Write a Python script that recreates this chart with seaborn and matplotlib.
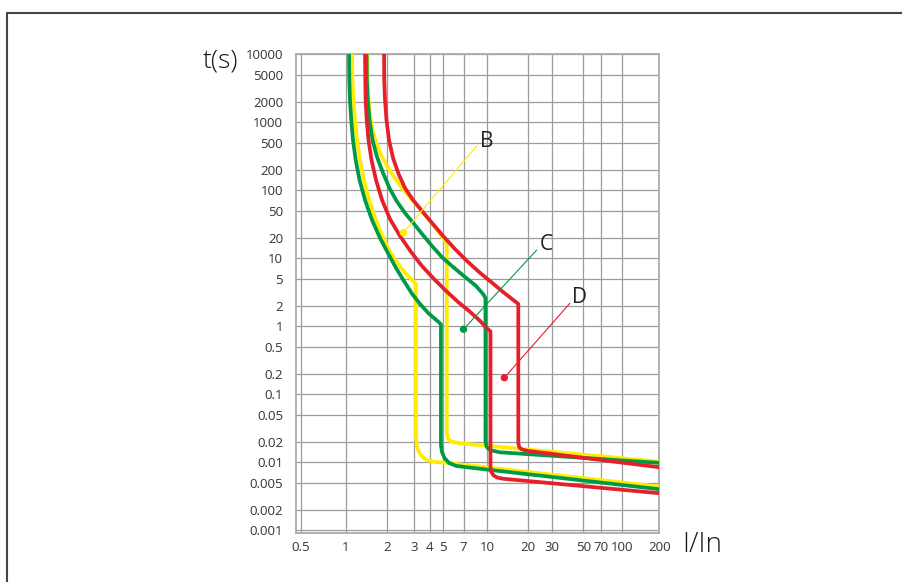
import numpy as np
import matplotlib
matplotlib.use('Agg')
import matplotlib.pyplot as plt
from matplotlib.lines import Line2D
from matplotlib.ticker import NullLocator
import seaborn as sns

# axis ticks
x_ticks = [0.5, 1, 2, 3, 4, 5, 7, 10, 20, 30, 50, 70, 100, 200]
y_ticks = [10000, 5000, 2000, 1000, 500, 200, 100, 50, 20, 10, 5, 2, 1,
           0.5, 0.2, 0.1, 0.05, 0.02, 0.01, 0.005, 0.002, 0.001]
# the printed I/In scale is not evenly logarithmic: where each tick sits (px)
x_tick_place = [300.7, 345.7, 386.7, 413.7, 429.7, 443.3, 463.5, 487.3,
                527.7, 552.3, 583.3, 600.7, 621.7, 659.3]

# trip curves, I/In vs t(s)
b_min_x = [1.112, 1.12, 1.141, 1.17, 1.211, 1.274, 1.362, 1.483, 1.641, 1.817, 2.01,
           2.23, 2.48, 2.755, 2.97, 3.125, 3.125, 3.18, 3.33, 3.55, 3.89, 4.36, 5.0, 200]
b_min_t = [12000, 4188, 2128, 1081, 549, 279, 142, 72, 39.2, 23.6, 15.2,
           10.07, 7.2, 5.49, 4.64, 4.19, 0.0236, 0.0168, 0.0137, 0.01177, 0.0106,
           0.0101, 0.0099, 0.00438]

b_max_x = [1.44, 1.446, 1.47, 1.508, 1.574, 1.669, 1.817, 2.01, 2.23, 2.52, 2.89,
           3.36, 3.96, 4.58, 5.3, 5.3, 5.36, 5.54, 5.88, 6.6, 200]
b_max_t = [12000, 4188, 2128, 1281, 771, 513, 331, 228, 157, 108, 74.5,
           53.2, 36.6, 25.2, 16.5, 0.0279, 0.0232, 0.0209, 0.0199, 0.019, 0.0102]

c_min_x = [1.057, 1.063, 1.075, 1.098, 1.131, 1.184, 1.263, 1.386, 1.56, 1.786, 2.039,
           2.30, 2.59, 2.93, 3.36, 3.89, 4.36, 4.66, 4.81, 4.81, 4.89, 5.1, 5.5,
           6.18, 7.34, 200]
c_min_t = [12000, 4188, 2128, 1081, 549, 279, 142, 72, 36.6, 19.9, 11.9,
           7.2, 4.64, 2.99, 2.13, 1.57, 1.283, 1.14, 1.066, 0.018, 0.01417, 0.01156,
           0.00977, 0.00883, 0.00844, 0.00401]

c_max_x = [1.422, 1.43, 1.453, 1.495, 1.574, 1.698, 1.879, 2.085, 2.32, 2.63, 3.02,
           3.54, 4.15, 4.89, 5.88, 7.16, 8.44, 9.37, 9.73, 9.73, 9.88, 10.3, 11.08,
           12.43, 200]
c_max_t = [12000, 4188, 2128, 1081, 549, 309, 180, 108, 69.6, 46.4, 32,
           22, 15.2, 10.4, 7.45, 5.31, 3.92, 2.99, 2.61, 0.0206, 0.0171, 0.0154,
           0.0147, 0.014, 0.00977]

d_min_x = [1.386, 1.393, 1.40, 1.427, 1.47, 1.547, 1.669, 1.848, 2.10, 2.44, 2.89,
           3.48, 4.29, 5.23, 6.39, 7.72, 8.97, 9.88, 10.56, 10.56, 10.71, 11.13,
           11.81, 13.09, 200]
d_min_t = [12000, 4188, 2128, 1081, 549, 279, 142, 72, 37.9, 21.3, 12.3,
           7.7, 4.97, 3.31, 2.28, 1.63, 1.2, 0.945, 0.839, 0.00853, 0.0072, 0.0064,
           0.00597, 0.00572, 0.0035]

d_max_x = [1.912, 1.918, 1.944, 1.993, 2.07, 2.2, 2.39, 2.63, 2.97, 3.48, 4.15,
           4.98, 6.08, 7.37, 8.83, 10.66, 13.09, 15.27, 17.02, 17.02, 17.33, 18.12,
           19.9, 200]
d_max_t = [12000, 4188, 2128, 1081, 549, 298.6, 174, 108, 72, 49.7, 33.1,
           21.3, 13.65, 9.13, 6.29, 4.49, 3.2, 2.52, 2.13, 0.019, 0.0165, 0.0154,
           0.0147, 0.00844]

# curve labels with their leader lines
labels = ['B', 'C', 'D']
label_x = [9.9, 27.4, 47.3]
label_t = [519, 15.7, 2.61]
leader_x = [8.52, 23.2, 40.1]
leader_t = [448, 13.2, 2.18]
dot_x = [2.57, 7.0, 13.4]
dot_t = [23.8, 0.904, 0.175]

yellow = '#ffec00'
green = '#009a46'
red = '#e5202a'
colors = [yellow, green, red]

sns.set_theme(style='white')
plt.rcParams['font.family'] = ['Open Sans', 'DejaVu Sans']

fig = plt.figure(figsize=(9.02, 5.82), dpi=100)
ax = fig.add_axes([295.7 / 902, 49 / 582, 363.6 / 902, 478.7 / 582])

curves = [(b_min_x, b_min_t, yellow, 3), (b_max_x, b_max_t, yellow, 3),
          (c_min_x, c_min_t, green, 4), (c_max_x, c_max_t, green, 4),
          (d_min_x, d_min_t, red, 5), (d_max_x, d_max_t, red, 5)]
for xs, ts, col, z in curves:
    sns.lineplot(x=xs, y=ts, sort=False, estimator=None, color=col, lw=2.7,
                 zorder=z, ax=ax, solid_joinstyle='round', solid_capstyle='butt')

for i in range(3):
    sns.lineplot(x=[leader_x[i], dot_x[i]], y=[leader_t[i], dot_t[i]], sort=False,
                 estimator=None, color=colors[i], lw=0.8, zorder=6, ax=ax)
sns.scatterplot(x=dot_x, y=dot_t, hue=labels, palette=colors, s=28,
                edgecolor='none', zorder=7, legend=False, ax=ax)
for i in range(3):
    ax.text(label_x[i], label_t[i], labels[i], fontsize=15, color='#222222',
            ha='center', va='center', zorder=8)

# piecewise-log scale through the printed tick positions
log_ticks = np.log10(x_ticks)
lo_slope = (x_tick_place[1] - x_tick_place[0]) / (log_ticks[1] - log_ticks[0])
hi_slope = (x_tick_place[-1] - x_tick_place[-2]) / (log_ticks[-1] - log_ticks[-2])
anchor_log = np.r_[log_ticks[0] - 2, log_ticks, log_ticks[-1] + 2]
anchor_pos = np.r_[x_tick_place[0] - 2 * lo_slope, x_tick_place,
                   x_tick_place[-1] + 2 * hi_slope]


def fwd(v):
    return np.interp(np.log10(np.clip(v, 1e-9, None)), anchor_log, anchor_pos)


def inv(p):
    return 10 ** np.interp(p, anchor_pos, anchor_log)


ax.set_xscale('function', functions=(fwd, inv))
ax.set_yscale('log')
ax.set_xlim(inv(295.7), 200)
ax.set_ylim(0.00091, 10000)
ax.set_xticks(x_ticks)
ax.set_xticklabels([f'{v:g}' for v in x_ticks])
ax.set_yticks(y_ticks)
ax.set_yticklabels([f'{v:g}' for v in y_ticks])
ax.xaxis.set_minor_locator(NullLocator())
ax.yaxis.set_minor_locator(NullLocator())
ax.set_xlabel('')
ax.set_ylabel('')
ax.grid(True, color='#9c9c9c', lw=0.9)
ax.set_axisbelow(True)
ax.tick_params(length=0, labelsize=9.5, labelcolor='#333333')
ax.tick_params(axis='y', pad=9)
ax.tick_params(axis='x', pad=6)
for sp in ax.spines.values():
    sp.set_color('#ababab')
    sp.set_linewidth(1.3)

fig.text(220 / 902, 1 - 61 / 582, 't(s)', fontsize=19, fontweight='light',
         color='#1a1a1a', ha='center', va='center')
fig.text(702.5 / 902, 1 - 545 / 582, 'I/In', fontsize=20, fontweight='light',
         color='#1a1a1a', ha='center', va='center')

# page frame
fig.add_artist(Line2D([0.0074, 0.0074], [0, 0.9782], transform=fig.transFigure,
                      color='#444444', lw=1.5))
fig.add_artist(Line2D([0.0074, 1], [0.9782, 0.9782], transform=fig.transFigure,
                      color='#444444', lw=1.5))

fig.savefig('out.png', dpi=100)
